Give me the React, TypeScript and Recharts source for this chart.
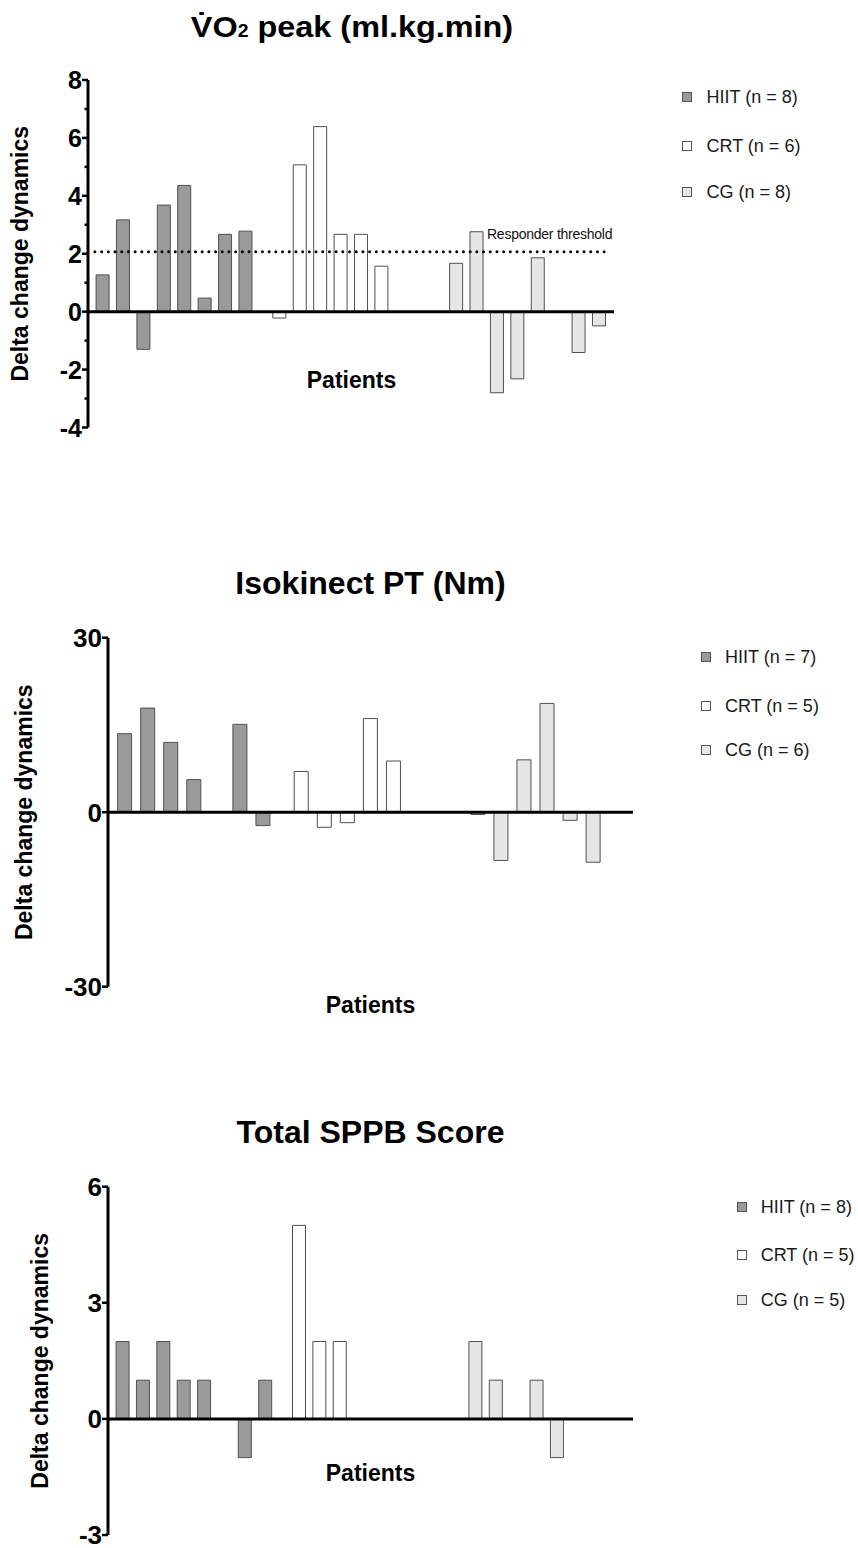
import React from "react";
import { Bar, BarChart, Cell, ReferenceLine, XAxis, YAxis } from "recharts";

const FONT = '"Liberation Sans", Arial, Helvetica, sans-serif';

const groupNames = ["HIIT", "CRT", "CG"];
const groupFills = ["#9a9a9a", "#ffffff", "#e6e6e6"];
const barStroke = "#505050";

// VO2 peak (ml.kg.min), one value per patient
const vo2Hiit = [1.27, 3.17, -1.3, 3.68, 4.36, 0.47, 2.67, 2.78];
const vo2Crt = [-0.22, 5.07, 6.39, 2.67, 2.67, 1.57];
const vo2Cg = [1.67, 2.76, -2.8, -2.32, 1.86, 0, -1.41, -0.49];
const vo2Counts = [8, 6, 8];
const vo2Ticks = [-4, -3, -2, -1, 0, 1, 2, 3, 4, 5, 6, 7, 8];
const vo2Labels = [-4, -2, 0, 2, 4, 6, 8];
const responderThreshold = 2.07;

// Isokinect PT (Nm)
const ptHiit = [13.5, 17.9, 12.0, 5.6, 0, 15.1, -2.3];
const ptCrt = [7.0, -2.6, -1.8, 16.1, 8.8];
const ptCg = [-0.4, -8.3, 9.0, 18.7, -1.4, -8.6];
const ptCounts = [7, 5, 6];
const ptTicks = [-30, 0, 30];

// Total SPPB score
const sppbHiit = [2, 1, 2, 1, 1, 0, -1, 1];
const sppbCrt = [5, 2, 2, 0, 0];
const sppbCg = [2, 1, 0, 1, -1];
const sppbCounts = [8, 5, 5];
const sppbTicks = [-3, 0, 3, 6];

// spacing between groups, in bar slots
const GROUP_GAP = 0.66;
const PAD_LEFT = 0.7;
const PAD_RIGHT = 0.75;

type Row = { pos: number; value: number; group: number };

function buildRows(series: number[][], slots: number): Row[] {
  const rows: Row[] = [];
  series.forEach((values, g) => {
    values.forEach((value, i) => {
      rows.push({ pos: g * (slots + GROUP_GAP) + i, value, group: g });
    });
  });
  return rows;
}

type PanelProps = {
  top: number;
  width: number;
  height: number;
  marginTop: number;
  marginRight: number;
  marginBottom: number;
  axisX: number;
  series: number[][];
  slots: number;
  domain: [number, number];
  ticks: number[];
  labels: number[];
  tickFont: number;
  barSize: number;
  yLabelX: number;
  threshold?: number;
};

function Panel(p: PanelProps) {
  const rows = buildRows(p.series, p.slots);
  const xMax = (p.series.length - 1) * (p.slots + GROUP_GAP) + p.slots - 1;

  const renderTick = (props: any) => {
    const { y, payload } = props;
    const v = payload.value;
    const major = p.labels.includes(v);
    return (
      <g>
        <line x1={p.axisX - (major ? 6 : 3.5)} x2={p.axisX} y1={y} y2={y} stroke="#000" strokeWidth={2.5} />
        {major && (
          <text
            x={p.axisX - 6}
            y={y}
            dy="0.36em"
            textAnchor="end"
            fontSize={p.tickFont}
            fontWeight={700}
            fontFamily={FONT}
            fill="#000"
          >
            {String(v)}
          </text>
        )}
      </g>
    );
  };

  return (
    <div style={{ position: "absolute", left: 0, top: p.top }}>
      <BarChart
        width={p.width}
        height={p.height}
        data={rows}
        margin={{ top: p.marginTop, right: p.marginRight, bottom: p.marginBottom, left: 0 }}
      >
        <XAxis type="number" dataKey="pos" domain={[-PAD_LEFT, xMax + PAD_RIGHT]} hide />
        <YAxis
          type="number"
          domain={p.domain}
          ticks={p.ticks}
          interval={0}
          width={p.axisX}
          axisLine={{ stroke: "#000", strokeWidth: 3 }}
          tickLine={false}
          tick={renderTick}
          label={{
            value: "Delta change dynamics",
            angle: -90,
            position: "insideLeft",
            offset: p.yLabelX,
            style: { textAnchor: "middle", fontSize: 23, fontWeight: 700, fill: "#000", fontFamily: FONT },
          }}
        />
        {p.threshold !== undefined && (
          <ReferenceLine
            segment={[
              { x: -0.36, y: p.threshold },
              { x: xMax + 0.56, y: p.threshold },
            ]}
            stroke="#000"
            strokeWidth={3}
            strokeDasharray="0 6.7"
            strokeLinecap="round"
          />
        )}
        <Bar dataKey="value" barSize={p.barSize} stroke={barStroke} strokeWidth={1} isAnimationActive={false}>
          {rows.map((r, i) => (
            <Cell key={i} fill={groupFills[r.group]} />
          ))}
        </Bar>
        <ReferenceLine y={0} stroke="#000" strokeWidth={3} />
      </BarChart>
    </div>
  );
}

function LegendBox({ squareLeft, textLeft, centers, counts }: { squareLeft: number; textLeft: number; centers: number[]; counts: number[] }) {
  return (
    <>
      {groupNames.map((name, i) => (
        <div key={name} style={{ position: "absolute", top: centers[i] - 9, left: squareLeft, height: 18, display: "flex", alignItems: "center", whiteSpace: "nowrap" }}>
          <div style={{ width: 10, height: 10, boxSizing: "border-box", border: "1px solid #555", background: groupFills[i] }} />
          <span style={{ marginLeft: textLeft - squareLeft - 10, fontSize: 18, lineHeight: "18px", color: "#1a1a1a" }}>
            {name} (n = {counts[i]})
          </span>
        </div>
      ))}
    </>
  );
}

function CenteredText({ cx, top, size, children, scaleX = 1 }: { cx: number; top: number; size: number; children: React.ReactNode; scaleX?: number }) {
  return (
    <div
      style={{
        position: "absolute",
        left: cx - 300,
        width: 600,
        top,
        textAlign: "center",
        fontSize: size,
        lineHeight: `${size}px`,
        fontWeight: 700,
        color: "#000",
        whiteSpace: "nowrap",
        transform: scaleX !== 1 ? `scaleX(${scaleX})` : undefined,
      }}
    >
      {children}
    </div>
  );
}

export default function App() {
  return (
    <div style={{ position: "absolute", left: 0, top: 0, width: 858, height: 1548, background: "#fff", fontFamily: FONT, overflow: "hidden" }}>
      <CenteredText cx={351.5} top={11.6} size={30} scaleX={1.08}>
        {"V\u0307O"}
        <span style={{ fontSize: "0.6em" }}>2</span>
        {" peak (ml.kg.min)"}
      </CenteredText>
      <Panel
        top={0}
        width={640}
        height={450}
        marginTop={80}
        marginRight={26}
        marginBottom={22.5}
        axisX={88}
        series={[vo2Hiit, vo2Crt, vo2Cg]}
        slots={8}
        domain={[-4, 8]}
        ticks={vo2Ticks}
        labels={vo2Labels}
        tickFont={25}
        barSize={13}
        yLabelX={19.5}
        threshold={responderThreshold}
      />
      <div style={{ position: "absolute", left: 487, top: 227.4, fontSize: 14, lineHeight: "14px", letterSpacing: -0.25, color: "#111", whiteSpace: "nowrap" }}>
        Responder threshold
      </div>
      <CenteredText cx={351.5} top={368.8} size={23}>Patients</CenteredText>
      <LegendBox squareLeft={682} textLeft={706.5} centers={[97.3, 146, 191.7]} counts={vo2Counts} />

      <CenteredText cx={370.5} top={567} size={32}>Isokinect PT (Nm)</CenteredText>
      <Panel
        top={560}
        width={660}
        height={450}
        marginTop={77.7}
        marginRight={27}
        marginBottom={23.3}
        axisX={108}
        series={[ptHiit, ptCrt, ptCg]}
        slots={7}
        domain={[-30, 30]}
        ticks={ptTicks}
        labels={ptTicks}
        tickFont={26}
        barSize={14}
        yLabelX={24}
      />
      <CenteredText cx={370.5} top={993.8} size={23}>Patients</CenteredText>
      <LegendBox squareLeft={700.7} textLeft={725} centers={[656.7, 706, 750]} counts={ptCounts} />

      <CenteredText cx={370.5} top={1116} size={32}>Total SPPB Score</CenteredText>
      <Panel
        top={1100}
        width={660}
        height={448}
        marginTop={86.7}
        marginRight={27}
        marginBottom={13}
        axisX={108}
        series={[sppbHiit, sppbCrt, sppbCg]}
        slots={8}
        domain={[-3, 6]}
        ticks={sppbTicks}
        labels={sppbTicks}
        tickFont={26}
        barSize={13}
        yLabelX={40}
      />
      <CenteredText cx={370.5} top={1462} size={23}>Patients</CenteredText>
      <LegendBox squareLeft={736.7} textLeft={760.7} centers={[1206.7, 1255, 1300]} counts={sppbCounts} />
    </div>
  );
}
